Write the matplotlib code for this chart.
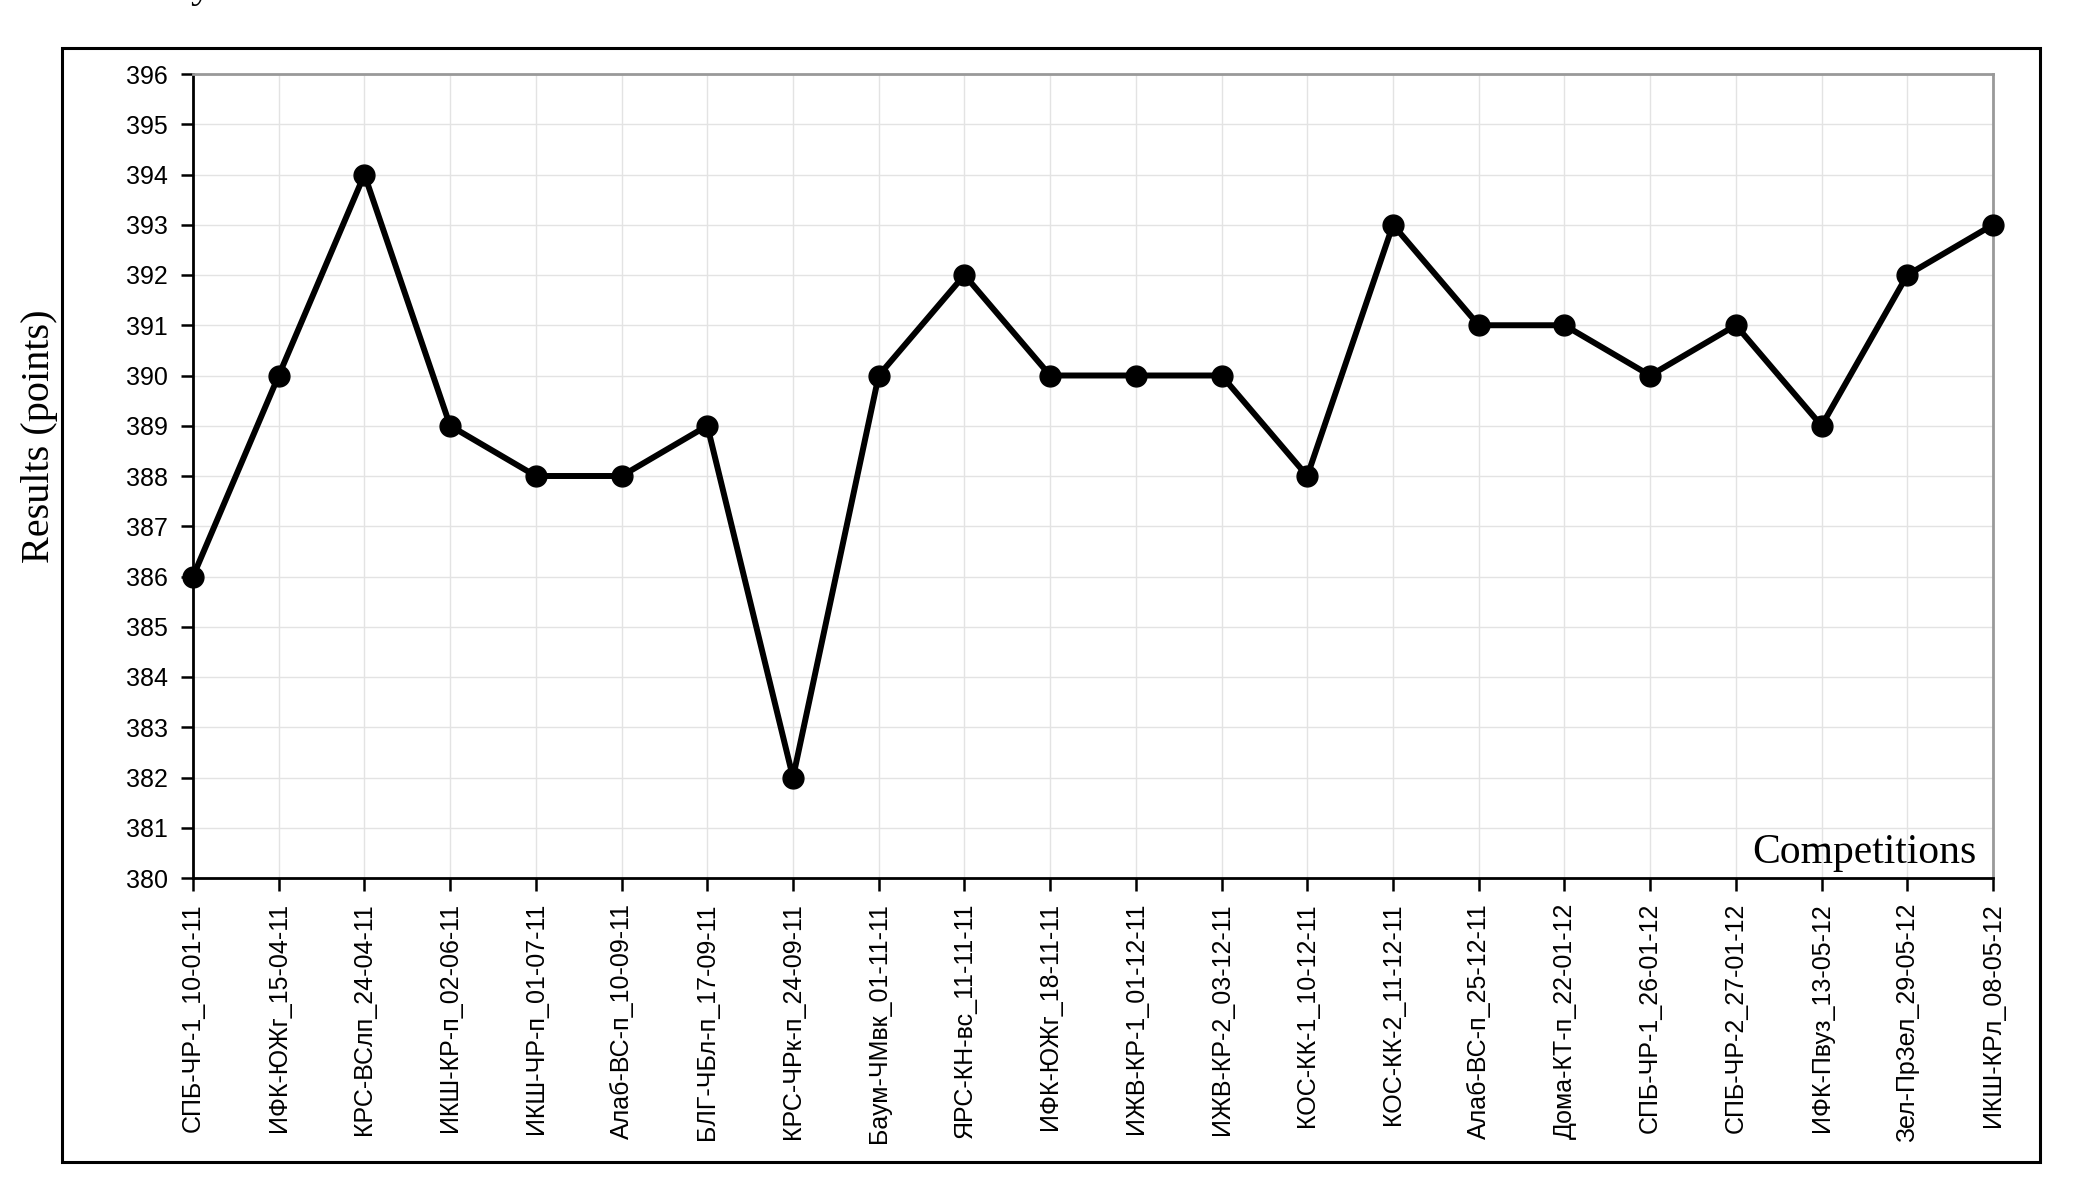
import matplotlib
matplotlib.use("Agg")
import matplotlib.pyplot as plt
from matplotlib.patches import Rectangle

competitions = [
    "СПБ-ЧР-1_10-01-11", "ИФК-ЮЖг_15-04-11", "КРС-ВСлп_24-04-11", "ИКШ-КР-п_02-06-11",
    "ИКШ-ЧР-п_01-07-11", "Алаб-ВС-п_10-09-11", "БЛГ-ЧБл-п_17-09-11", "КРС-ЧРк-п_24-09-11",
    "Баум-ЧМвк_01-11-11", "ЯРС-КН-вс_11-11-11", "ИФК-ЮЖг_18-11-11", "ИЖВ-КР-1_01-12-11",
    "ИЖВ-КР-2_03-12-11", "КОС-КК-1_10-12-11", "КОС-КК-2_11-12-11", "Алаб-ВС-п_25-12-11",
    "Дома-КТ-п_22-01-12", "СПБ-ЧР-1_26-01-12", "СПБ-ЧР-2_27-01-12", "ИФК-Пвуз_13-05-12",
    "Зел-ПрЗел_29-05-12", "ИКШ-КРл_08-05-12",
]
results = [386, 390, 394, 389, 388, 388, 389, 382, 390, 392, 390,
           390, 390, 388, 393, 391, 391, 390, 391, 389, 392, 393]
y_ticks = list(range(380, 397))

W, H = 2093, 1194
fig = plt.figure(figsize=(W / 100, H / 100), dpi=100)

sans = ["Liberation Sans", "DejaVu Sans"]
serif = ["Liberation Serif", "DejaVu Serif"]

# outer frame
fig.patches.append(Rectangle((62 / W, 1 - 1162 / H), (2040 - 62) / W, (1162 - 48) / H,
                             transform=fig.transFigure, fill=False, edgecolor="black",
                             linewidth=2.2, zorder=0))

ax = fig.add_axes([193 / W, 1 - 878 / H, (1993 - 193) / W, (878 - 74) / H])
x = list(range(len(results)))
ax.plot(x, results, color="black", linewidth=4.3, marker="o", markersize=15,
        markerfacecolor="black", markeredgecolor="black", zorder=3, clip_on=False)

ax.set_xlim(0, len(results) - 1)
ax.set_ylim(380, 396)
ax.set_yticks(y_ticks)
ax.set_yticklabels([str(v) for v in y_ticks], fontfamily=sans, fontsize=18)
ax.set_xticks(x)
ax.set_xticklabels(competitions, rotation=90, fontfamily=sans, fontsize=18)
ax.tick_params(axis="both", direction="out", length=9, width=1.8, color="black", pad=9)

ax.grid(True, color="#e3e3e3", linewidth=1.0)
ax.set_axisbelow(True)
for s in ["left", "bottom"]:
    ax.spines[s].set_color("black")
    ax.spines[s].set_linewidth(2.0)
for s in ["top", "right"]:
    ax.spines[s].set_color("#999999")
    ax.spines[s].set_linewidth(2.0)

fig.text(40 / W, 1 - 436 / H, "Results (points)", rotation=90, ha="center", va="center",
         fontfamily=serif, fontsize=29)
fig.text(1977 / W, 1 - 863 / H, "Competitions", ha="right", va="baseline",
         fontfamily=serif, fontsize=30)
# clipped caption letter at the very top edge (as in the reference)
fig.text(190 / W, 1 + 3 / H, "y", ha="left", va="baseline", fontfamily=serif, fontsize=30)

fig.savefig("out.png", dpi=100)
